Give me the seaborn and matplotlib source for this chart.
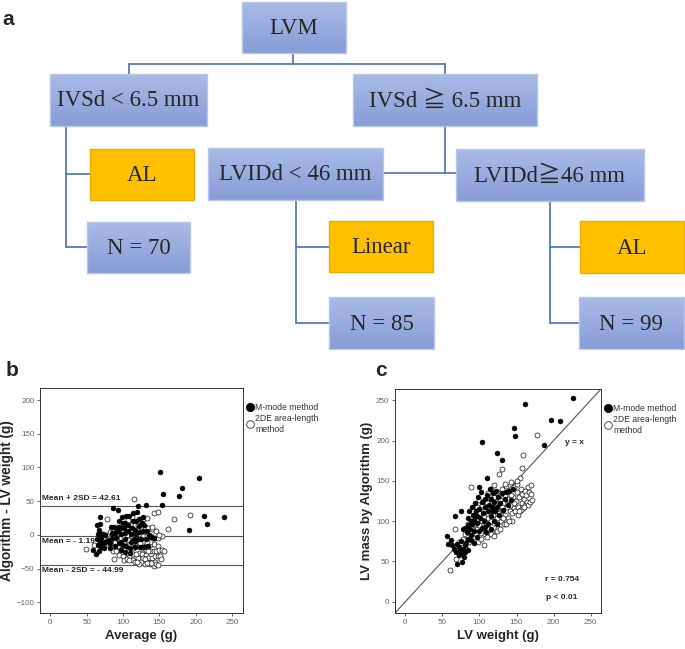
import numpy as np
import pandas as pd
import matplotlib
matplotlib.use("Agg")
import matplotlib.pyplot as plt
from matplotlib.patches import Rectangle
from matplotlib.lines import Line2D
from matplotlib.colors import LinearSegmentedColormap
import seaborn as sns

# %% data -------------------------------------------------------------------
# decision tree labels (panel a)
node_labels = ["LVM", "IVSd < 6.5 mm", "IVSd \u2267 6.5 mm", "AL", "N = 70",
               "LVIDd < 46 mm", "LVIDd\u226746 mm", "Linear", "N = 85", "AL", "N = 99"]
node_kind = ["split", "split", "split", "method", "count",
             "split", "split", "method", "count", "method", "count"]

# panel c: LV weight (autopsy) vs LV mass by algorithm
mmode_weight = [226, 162, 197, 208, 147, 148, 104, 187, 124, 131, 110,
                56, 58, 61, 63, 65, 67, 68, 70, 70, 72, 73, 74, 75, 75, 76, 77, 78, 78, 79, 80,
                80, 81, 82, 83, 84, 85, 85, 86, 87, 88, 88, 90, 90, 91, 92, 93, 94, 95, 96, 97,
                98, 99, 100, 101, 102, 103, 104, 105, 106, 107, 108, 109, 110, 111, 112, 113,
                114, 115, 116, 117, 118, 119, 120, 121, 122, 123, 124, 125, 126, 128, 130, 132,
                134, 136, 138, 140, 142, 145, 88, 92, 100, 108, 115, 118, 96, 84]
mmode_algo = [253, 246, 225, 224, 216, 206, 198, 194, 185, 176, 154,
              82, 72, 77, 70, 66, 107, 62, 47, 72, 68, 58, 64, 112, 75, 60, 49, 66, 90, 55, 70,
              62, 92, 73, 86, 64, 95, 78, 112, 90, 100, 83, 96, 118, 108, 73, 88, 122, 112, 98, 80,
              130, 142, 115, 104, 136, 92, 124, 110, 100, 128, 118, 86, 133, 112, 96, 120,
              140, 128, 106, 118, 135, 100, 124, 112, 137, 96, 118, 130, 108, 122, 135, 114,
              128, 136, 120, 137, 126, 140, 76, 102, 88, 93, 90, 112, 106, 104]

de2_weight = [60, 68, 67, 72, 75, 78, 80, 82, 84, 86, 88, 89, 90, 92, 93, 95, 96, 97, 98, 100,
              100, 102, 103, 104, 105, 106, 107, 108, 109, 110, 111, 112, 113, 114, 115, 116, 117,
              118, 119, 120, 121, 122, 123, 124, 125, 126, 127, 127, 128, 129, 130, 131, 131, 132,
              133, 134, 135, 136, 137, 138, 139, 140, 141, 142, 143, 144, 145, 146, 147, 148, 149,
              150, 151, 152, 153, 154, 155, 156, 157, 157, 158, 159, 159, 160, 161, 162, 163, 164,
              165, 166, 167, 168, 169, 170, 171, 177, 102, 106, 110, 115, 120, 124, 128, 132, 136,
              140, 144, 148, 152, 156, 160, 116, 120, 96, 92, 99, 112, 84, 78, 134, 142, 150, 154,
              146, 138, 130]
de2_algo = [39, 53, 90, 74, 70, 78, 84, 66, 80, 74, 92, 142, 86, 80, 96, 84, 90, 102, 74, 95,
            110, 85, 100, 120, 92, 106, 84, 115, 98, 124, 104, 90, 112, 128, 100, 118, 86,
            108, 130, 98, 122, 114, 104, 136, 92, 118, 159, 110, 126, 100, 140, 165, 114, 122,
            96, 132, 108, 144, 118, 104, 126, 138, 112, 148, 120, 100, 130, 116, 142, 112, 125,
            136, 146, 118, 112, 130, 153, 140, 166, 122, 134, 182, 116, 128, 138, 120, 132, 124,
            142, 120, 136, 124, 145, 134, 126, 207, 78, 70, 80, 84, 82, 88, 90, 104, 96,
            100, 110, 112, 108, 114, 118, 140, 145, 118, 108, 126, 135, 96, 68, 146, 132, 150, 112,
            122, 128, 118]

# panel b: Bland-Altman limits printed on the chart
ba_upper = 42.61
ba_mean = -1.19
ba_lower = -44.99
r_value = 0.754

method_names = ["M-mode method", "2DE area-length\nmethod"]

# %% tidy frames --------------------------------------------------------------
df = pd.concat([
    pd.DataFrame({"weight": mmode_weight, "algo": mmode_algo, "method": method_names[0]}),
    pd.DataFrame({"weight": de2_weight, "algo": de2_algo, "method": method_names[1]}),
], ignore_index=True)
df["average"] = (df["weight"] + df["algo"]) / 2
df["diff"] = df["algo"] - df["weight"]

# %% style -------------------------------------------------------------------
sns.set_theme(style="ticks")
plt.rcParams["font.family"] = ["Liberation Sans", "DejaVu Sans"]

fig = plt.figure(figsize=(6.85, 6.49), dpi=100)

# %% panel a: tree -----------------------------------------------------------
ax_a = fig.add_axes([0, 1 - 350 / 649, 1, 350 / 649])
ax_a.set_xlim(0, 685)
ax_a.set_ylim(350, 0)
ax_a.axis("off")

boxes = [(242, 2, 346, 53), (50, 74, 207, 126), (353, 74, 537, 126),
         (90, 149, 194, 200), (87, 222, 190, 273), (208, 148, 383, 200),
         (456, 149, 644, 201), (329, 221, 433, 272), (329, 297, 434, 349),
         (580, 221, 684, 273), (579, 297, 684, 349)]

blue_grad = LinearSegmentedColormap.from_list("bg", ["#AABBE6", "#889DD6"])
grad = np.linspace(0, 1, 64).reshape(-1, 1)

connectors = [[(293, 53), (293, 64)], [(129, 64), (445, 64)], [(129, 64), (129, 74)],
              [(445, 64), (445, 74)], [(66, 126), (66, 247)], [(66, 174), (90, 174)],
              [(66, 247), (87, 247)], [(445, 126), (445, 173)], [(383, 173), (456, 173)],
              [(296, 200), (296, 323)], [(296, 247), (329, 247)], [(296, 323), (329, 323)],
              [(550, 201), (550, 323)], [(550, 247), (580, 247)], [(550, 323), (579, 323)]]
for (x0, y0), (x1, y1) in connectors:
    ax_a.plot([x0, x1], [y0, y1], color="#4A6FC0", lw=1.2, zorder=1)

for (x0, y0, x1, y1), label, kind in zip(boxes, node_labels, node_kind):
    if kind == "method":
        ax_a.add_patch(Rectangle((x0, y0), x1 - x0, y1 - y0, facecolor="#FFC000",
                                 edgecolor="#E6AE00", lw=1, zorder=2))
    else:
        ax_a.imshow(grad, extent=(x0, x1, y1, y0), cmap=blue_grad, aspect="auto",
                    origin="upper", zorder=2)
        ax_a.add_patch(Rectangle((x0, y0), x1 - x0, y1 - y0, facecolor="none",
                                 edgecolor="#B9C6E9", lw=1, zorder=3))
    ax_a.text((x0 + x1) / 2, (y0 + y1) / 2 + 1, label, ha="center", va="center",
              fontsize=16.5, family=["Liberation Serif", "Noto Sans CJK JP"], zorder=4)
ax_a.set_xlim(0, 685)
ax_a.set_ylim(350, 0)

fig.text(0.004, 0.985, "a", fontsize=15, fontweight="bold", va="top")
fig.text(0.008, 0.443, "b", fontsize=15, fontweight="bold", va="top")
fig.text(0.548, 0.443, "c", fontsize=15, fontweight="bold", va="top")


def style_axes(ax):
    for sp in ax.spines.values():
        sp.set_visible(True)
        sp.set_color("#333333")
        sp.set_linewidth(0.7)
    ax.tick_params(labelsize=5.8, labelcolor="#666666", color="#555555",
                   length=2.5, width=0.6, pad=1.5)


def add_legend(ax):
    handles = [Line2D([], [], marker="o", ls="", color="black", markersize=5.5),
               Line2D([], [], marker="o", ls="", markerfacecolor="white",
                      markeredgecolor="#333333", markeredgewidth=0.6, markersize=5.5)]
    leg = ax.legend(handles, method_names, loc="upper left", bbox_to_anchor=(1.0, 0.95),
                    frameon=False, fontsize=6.2, handletextpad=0.25, handlelength=0.8,
                    borderaxespad=0, labelspacing=0.3)
    for t in leg.get_texts():
        t.set_color("#333333")


def draw_points(ax, x, y):
    sns.scatterplot(data=df[df["method"] == method_names[1]], x=x, y=y, ax=ax,
                    color="white", edgecolor="#222222", linewidth=0.55, s=13,
                    legend=False, zorder=3)
    sns.scatterplot(data=df[df["method"] == method_names[0]], x=x, y=y, ax=ax,
                    color="black", edgecolor="black", linewidth=0.3, s=13,
                    legend=False, zorder=4)


# %% panel b: Bland-Altman ---------------------------------------------------
ax_b = fig.add_axes([40 / 685, 1 - 613 / 649, 203 / 685, 225 / 649])
for v in [ba_upper, ba_mean, ba_lower]:
    ax_b.axhline(v, color="#555555", lw=0.8, zorder=2)
draw_points(ax_b, "average", "diff")
ax_b.set_xlim(-14, 265)
ax_b.set_ylim(-116, 218)
ax_b.set_xticks([0, 50, 100, 150, 200, 250])
ax_b.set_yticks([-100, -50, 0, 50, 100, 150, 200])
ax_b.set_xlabel("Average (g)", fontsize=9.5, fontweight="bold", labelpad=3)
ax_b.set_ylabel("Algorithm - LV weight (g)", fontsize=9.8, fontweight="bold", labelpad=2)
ann = dict(fontsize=6, fontweight="bold", ha="left", va="center", zorder=5)
ax_b.text(-11.5, 54, f"Mean + 2SD = {ba_upper:.2f}", **ann)
ax_b.text(-11.5, -9.5, f"Mean = - {abs(ba_mean):.2f}", **ann)
ax_b.text(-11.5, -52.5, f"Mean - 2SD = - {abs(ba_lower):.2f}", **ann)
style_axes(ax_b)
add_legend(ax_b)

# %% panel c: correlation ----------------------------------------------------
ax_c = fig.add_axes([395 / 685, 1 - 613 / 649, 206 / 685, 224 / 649])
ax_c.axline((0, 0), slope=1, color="#555555", lw=0.8, zorder=2)
draw_points(ax_c, "weight", "algo")
ax_c.set_xlim(-14, 264)
ax_c.set_ylim(-14, 264)
ax_c.set_xticks([0, 50, 100, 150, 200, 250])
ax_c.set_yticks([0, 50, 100, 150, 200, 250])
ax_c.set_xlabel("LV weight (g)", fontsize=9.5, fontweight="bold", labelpad=3)
ax_c.set_ylabel("LV mass by Algorithm (g)", fontsize=9.5, fontweight="bold", labelpad=2)
ann_c = dict(fontsize=6, fontweight="bold", ha="center", va="center", zorder=5)
ax_c.text(228, 198, "y = x", **ann_c)
ax_c.text(211, 28, f"r = {r_value:.3f}", **ann_c)
ax_c.text(211, 5, "p < 0.01", **ann_c)
style_axes(ax_c)
add_legend(ax_c)

fig.savefig("out.png", dpi=100, facecolor="white")
